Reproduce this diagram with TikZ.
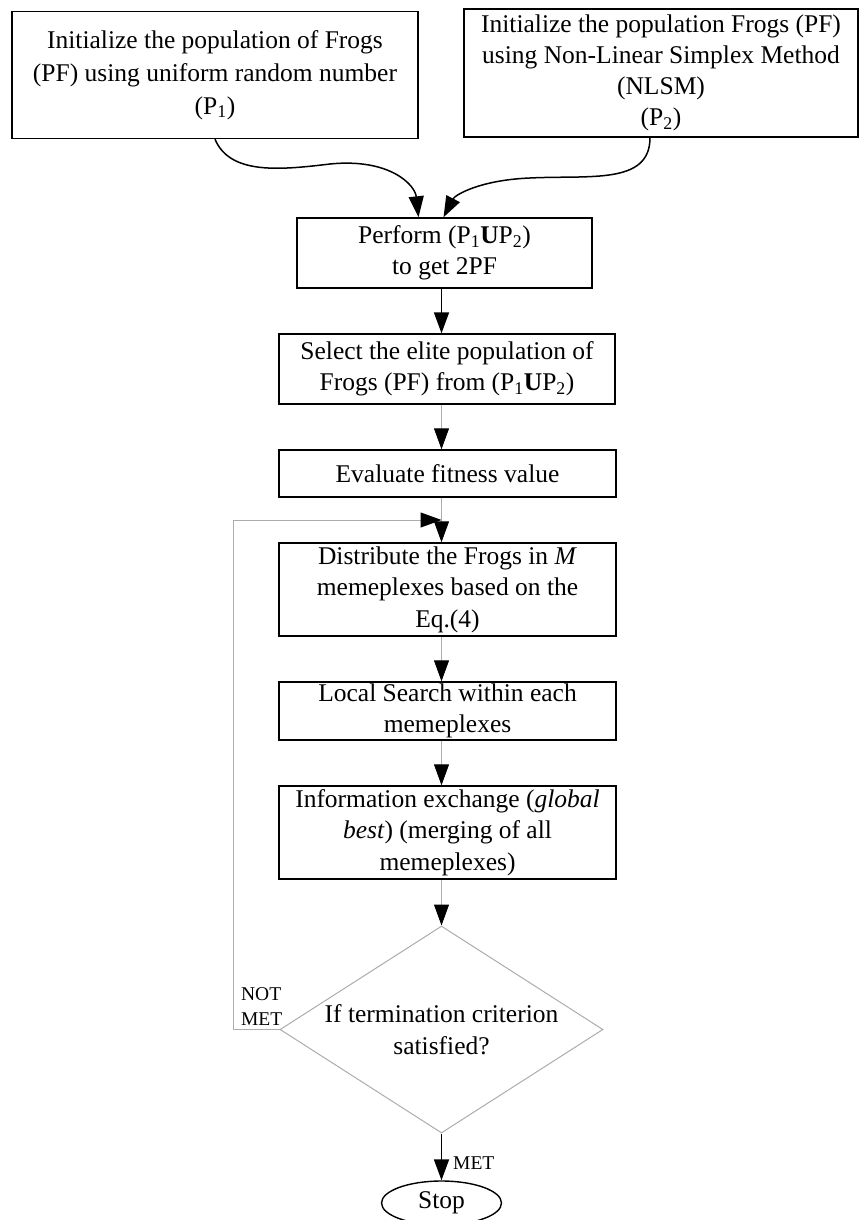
\documentclass[tikz,border=0pt]{standalone}
\usepackage{fontspec}
\setmainfont{Liberation Serif}
\usetikzlibrary{shapes.geometric,arrows.meta,calc}
\begin{document}
\begin{tikzpicture}[x=1pt,y=-1pt,
  box/.style={draw=black, line width=1.4pt, rectangle, align=center, inner sep=0pt, font=\fontsize{25.5}{31.5}\selectfont},
  tipstyle/.style={-{Triangle[length=21pt,width=15pt,color=black]}},
  thickarrow/.style={tipstyle, line width=1.8pt, draw=black},
  thinarrow/.style={tipstyle, line width=1pt, draw=gray!65},
  lbl/.style={font=\fontsize{19.5}{25}\selectfont, inner sep=0pt}
]
\useasboundingbox (0,0) rectangle (859,1220);

\node[box, minimum width=406pt, minimum height=127pt, font=\fontsize{25.5}{33}\selectfont] (A) at (215,75)
  {Initialize the population of Frogs\\(PF) using uniform random number\\(P\textsubscript{1})};
\node[box, minimum width=394pt, minimum height=128pt, font=\fontsize{25.5}{31}\selectfont] (B) at (661,73)
  {Initialize the population Frogs (PF)\\using Non-Linear Simplex Method\\(NLSM)\\(P\textsubscript{2})};
\node[box, minimum width=295pt, minimum height=70pt] (C) at (444.5,253)
  {Perform (P\textsubscript{1}\textbf{U}P\textsubscript{2})\\to get 2PF};
\node[box, minimum width=336pt, minimum height=70pt] (D) at (447,369)
  {Select the elite population of\\Frogs (PF) from (P\textsubscript{1}\textbf{U}P\textsubscript{2})};
\node[box, minimum width=337pt, minimum height=47pt] (E) at (447.5,473.5)
  {Evaluate fitness value};
\node[box, minimum width=337pt, minimum height=93pt] (F) at (447.5,589.5)
  {Distribute the Frogs in \textit{M}\\memeplexes based on the\\Eq.(4)};
\node[box, minimum width=337pt, minimum height=58pt] (G) at (447.5,711)
  {Local Search within each\\memeplexes};
\node[box, minimum width=337pt, minimum height=93pt] (H) at (447.5,832.5)
  {Information exchange (\textit{global}\\\textit{best}) (merging of all\\memeplexes)};
\node[diamond, draw=gray!65, line width=1pt, aspect=1.56, minimum width=323pt, minimum height=207pt, inner sep=0pt, align=center, font=\fontsize{25.5}{32}\selectfont] (Q) at (441.5,1029.5)
  {If termination criterion\\satisfied?};
\node[ellipse, draw=black, line width=1.4pt, minimum width=120pt, minimum height=44pt, inner sep=0pt, font=\fontsize{25.5}{31.5}\selectfont] (S) at (441.5,1203) {Stop};

% curved inputs
\draw[line width=1.5pt, tipstyle] (A.south) .. controls (230,175) and (280,170) .. (330,164)
  .. controls (390,158) and (415,185) .. ($(C.north)+(-26,0)$);
\draw[line width=1.5pt, tipstyle] ($(B.south)+(-11,0)$) .. controls (650,185) and (590,175) .. (530,178)
  .. controls (480,180) and (455,195) .. ($(C.north)+(-1,0)$);

% main chain
\draw[thickarrow] (C.south -| Q.north) -- (D.north -| Q.north);
\draw[thinarrow] (D.south -| Q.north) -- (E.north -| Q.north);
\draw[thinarrow] (E.south -| Q.north) -- (F.north -| Q.north);
\draw[thinarrow] (F.south -| Q.north) -- (G.north -| Q.north);
\draw[thinarrow] (G.south -| Q.north) -- (H.north -| Q.north);
\draw[thinarrow] (H.south -| Q.north) -- (Q.north);
\draw[thickarrow] (Q.south) -- (S.north);

% loop back
\coordinate (loopL) at (233,520);
\draw[thinarrow] (Q.west) -| (loopL) -- (Q.north |- loopL);

% labels
\node[lbl, align=left, anchor=south east] (nm) at ($(Q.west)+(3,-4)$) {NOT\\MET};
\node[lbl, anchor=west] (met) at (453,1163) {MET};
\end{tikzpicture}
\end{document}
